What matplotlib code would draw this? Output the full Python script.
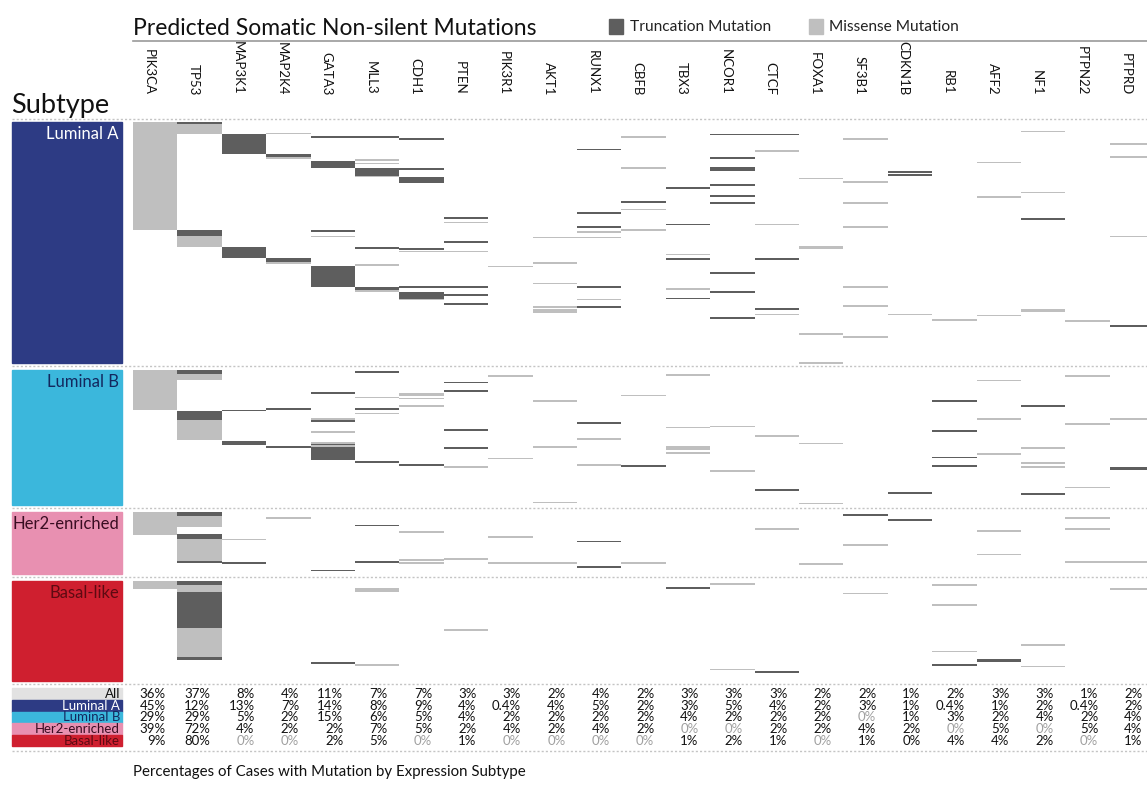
import matplotlib
matplotlib.use('Agg')
import matplotlib.pyplot as plt
from matplotlib.patches import Rectangle

plt.rcParams['font.family'] = ['Lato', 'DejaVu Sans']

genes = ['PIK3CA', 'TP53', 'MAP3K1', 'MAP2K4', 'GATA3', 'MLL3', 'CDH1', 'PTEN',
         'PIK3R1', 'AKT1', 'RUNX1', 'CBFB', 'TBX3', 'NCOR1', 'CTCF', 'FOXA1',
         'SF3B1', 'CDKN1B', 'RB1', 'AFF2', 'NF1', 'PTPN22', 'PTPRD']

subtypes = ['Luminal A', 'Luminal B', 'Her2-enriched', 'Basal-like']
subtype_sizes = [225, 126, 58, 93]
subtype_colors = ['#2d3b84', '#3bb7dc', '#e890b1', '#cf1f2f']
subtype_text_colors = ['white', '#13285e', '#3a0d22', '#5e0a12']

# mutations per gene: (first sample row, number of rows, T=truncation / M=missense)
luma_muts = {
    'PIK3CA': [(0, 101, 'M')],
    'TP53': [(0, 2, 'T'), (2, 9, 'M'), (101, 5, 'T'), (106, 11, 'M')],
    'MAP3K1': [(11, 19, 'T'), (117, 10, 'T')],
    'MAP2K4': [(10, 1, 'M'), (30, 3, 'T'), (33, 1, 'M'), (127, 4, 'T'), (131, 2, 'M')],
    'GATA3': [(13, 1, 'T'), (36, 7, 'T'), (101, 1, 'T'), (106, 1, 'M'), (134, 20, 'T')],
    'MLL3': [(13, 1, 'T'), (35, 1, 'M'), (38, 1, 'M'), (43, 7, 'T'), (50, 1, 'M'),
             (117, 1, 'T'), (133, 1, 'M'), (154, 3, 'T'), (157, 1, 'M')],
    'CDH1': [(15, 1, 'T'), (43, 1, 'T'), (51, 6, 'T'), (118, 1, 'T'), (120, 1, 'M'),
             (153, 1, 'T'), (159, 6, 'T'), (165, 1, 'M')],
    'PTEN': [(89, 1, 'T'), (93, 1, 'M'), (111, 1, 'T'), (120, 1, 'M'), (153, 1, 'T'),
             (161, 1, 'T'), (169, 1, 'T')],
    'PIK3R1': [(134, 1, 'M')],
    'AKT1': [(107, 1, 'M'), (131, 1, 'M'), (150, 1, 'M'), (172, 1, 'M'), (175, 3, 'M')],
    'RUNX1': [(25, 1, 'T'), (84, 1, 'T'), (97, 1, 'T'), (102, 1, 'M'), (107, 1, 'M'),
              (153, 1, 'T'), (165, 1, 'M'), (172, 2, 'T')],
    'CBFB': [(13, 1, 'M'), (42, 1, 'M'), (74, 1, 'T'), (81, 1, 'M'), (100, 1, 'M')],
    'TBX3': [(61, 1, 'T'), (95, 1, 'T'), (123, 1, 'M'), (127, 1, 'T'), (155, 1, 'M'), (164, 1, 'T')],
    'NCOR1': [(11, 1, 'T'), (33, 1, 'T'), (42, 1, 'T'), (44, 1, 'T'), (58, 1, 'T'), (68, 1, 'T'),
              (75, 1, 'T'), (140, 1, 'T'), (158, 1, 'T'), (182, 2, 'T')],
    'CTCF': [(11, 1, 'T'), (26, 1, 'M'), (95, 1, 'M'), (127, 1, 'T'), (174, 1, 'T'), (179, 1, 'M')],
    'FOXA1': [(52, 1, 'M'), (116, 3, 'M'), (197, 1, 'M'), (224, 1, 'M')],
    'SF3B1': [(15, 1, 'M'), (55, 1, 'M'), (75, 1, 'M'), (97, 1, 'M'), (153, 1, 'M'),
              (171, 1, 'M'), (200, 1, 'M')],
    'CDKN1B': [(46, 1, 'T'), (49, 1, 'T'), (179, 1, 'M')],
    'RB1': [(184, 1, 'M')],
    'AFF2': [(37, 1, 'M'), (69, 1, 'M'), (180, 1, 'M')],
    'NF1': [(8, 1, 'M'), (65, 1, 'M'), (90, 1, 'T'), (175, 2, 'M')],
    'PTPN22': [(185, 1, 'M')],
    'PTPRD': [(20, 1, 'M'), (32, 1, 'M'), (106, 1, 'M'), (190, 1, 'T')],
}

lumb_muts = {
    'PIK3CA': [(0, 37, 'M')],
    'TP53': [(0, 4, 'T'), (4, 5, 'M'), (38, 9, 'T'), (47, 18, 'M')],
    'MAP3K1': [(37, 1, 'T'), (66, 4, 'T')],
    'MAP2K4': [(36, 1, 'T'), (71, 1, 'T')],
    'GATA3': [(21, 1, 'T'), (45, 2, 'M'), (47, 1, 'T'), (57, 1, 'M'), (67, 2, 'M'),
              (69, 1, 'T'), (70, 2, 'M'), (72, 12, 'T')],
    'MLL3': [(1, 1, 'T'), (25, 1, 'M'), (36, 1, 'T'), (40, 1, 'M'), (85, 1, 'T')],
    'CDH1': [(22, 2, 'M'), (26, 1, 'M'), (33, 2, 'M'), (88, 1, 'T')],
    'PTEN': [(11, 1, 'T'), (19, 1, 'T'), (55, 1, 'T'), (72, 1, 'T'), (90, 1, 'M')],
    'PIK3R1': [(5, 1, 'M'), (82, 1, 'M')],
    'AKT1': [(28, 1, 'M'), (71, 1, 'M'), (123, 1, 'M')],
    'RUNX1': [(49, 1, 'T'), (64, 1, 'M'), (88, 1, 'M')],
    'CBFB': [(23, 1, 'M'), (89, 1, 'T')],
    'TBX3': [(4, 1, 'M'), (53, 1, 'M'), (71, 1, 'M'), (73, 1, 'M'), (77, 1, 'M')],
    'NCOR1': [(52, 1, 'M'), (93, 2, 'M')],
    'CTCF': [(61, 1, 'M'), (111, 1, 'T')],
    'FOXA1': [(68, 1, 'M'), (124, 1, 'M')],
    'CDKN1B': [(114, 1, 'T')],
    'RB1': [(28, 1, 'T'), (56, 1, 'T'), (81, 1, 'T'), (89, 1, 'T')],
    'AFF2': [(9, 1, 'M'), (45, 1, 'M'), (78, 1, 'M')],
    'NF1': [(33, 1, 'T'), (72, 1, 'M'), (86, 1, 'M'), (90, 1, 'M'), (115, 1, 'T')],
    'PTPN22': [(5, 1, 'M'), (50, 1, 'M'), (109, 1, 'M')],
    'PTPRD': [(45, 1, 'M'), (91, 2, 'T')],
}

her2_muts = {
    'PIK3CA': [(0, 22, 'M')],
    'TP53': [(0, 4, 'T'), (4, 10, 'M'), (21, 4, 'T'), (25, 21, 'M'), (46, 2, 'T')],
    'MAP3K1': [(25, 1, 'M'), (47, 1, 'T')],
    'MAP2K4': [(5, 1, 'M')],
    'GATA3': [(54, 1, 'T')],
    'MLL3': [(12, 1, 'T'), (46, 1, 'T')],
    'CDH1': [(18, 1, 'M'), (44, 1, 'M'), (47, 1, 'M')],
    'PTEN': [(43, 1, 'M')],
    'PIK3R1': [(23, 1, 'M'), (47, 1, 'M')],
    'AKT1': [(47, 1, 'M')],
    'RUNX1': [(27, 1, 'T'), (51, 1, 'T')],
    'CBFB': [(47, 1, 'M')],
    'CTCF': [(15, 1, 'M')],
    'FOXA1': [(48, 1, 'M')],
    'SF3B1': [(2, 1, 'T'), (30, 1, 'M')],
    'CDKN1B': [(7, 1, 'T')],
    'AFF2': [(17, 2, 'M'), (39, 1, 'M')],
    'PTPN22': [(5, 1, 'M'), (15, 1, 'M'), (46, 1, 'M')],
    'PTPRD': [(46, 1, 'M')],
}

basal_muts = {
    'PIK3CA': [(0, 8, 'M')],
    'TP53': [(0, 4, 'T'), (4, 6, 'M'), (10, 34, 'T'), (44, 27, 'M'), (71, 3, 'T')],
    'GATA3': [(76, 1, 'T')],
    'MLL3': [(7, 3, 'M'), (78, 1, 'M')],
    'PTEN': [(45, 1, 'M')],
    'TBX3': [(6, 1, 'T')],
    'NCOR1': [(2, 1, 'M'), (82, 1, 'M')],
    'CTCF': [(84, 1, 'T')],
    'SF3B1': [(11, 1, 'M')],
    'RB1': [(3, 1, 'M'), (22, 1, 'M'), (65, 1, 'M'), (78, 1, 'T')],
    'AFF2': [(73, 3, 'T')],
    'NF1': [(59, 1, 'M'), (79, 1, 'M')],
    'PTPRD': [(7, 1, 'M')],
}

# percentages of cases with mutation
table_rows = ['All', 'Luminal A', 'Luminal B', 'Her2-enriched', 'Basal-like']
pct_all = [36, 37, 8, 4, 11, 7, 7, 3, 3, 2, 4, 2, 3, 3, 3, 2, 2, 1, 2, 3, 3, 1, 2]
pct_luma = [45, 12, 13, 7, 14, 8, 9, 4, 0.4, 4, 5, 2, 3, 5, 4, 2, 3, 1, 0.4, 1, 2, 0.4, 2]
pct_lumb = [29, 29, 5, 2, 15, 6, 5, 4, 2, 2, 2, 2, 4, 2, 2, 2, 0, 1, 3, 2, 4, 2, 4]
pct_her2 = [39, 72, 4, 2, 2, 7, 5, 2, 4, 2, 4, 2, 0, 0, 2, 2, 4, 2, 0, 5, 0, 5, 4]
pct_basal = [9, 80, 0, 0, 2, 5, 0, 1, 0, 0, 0, 0, 1, 2, 1, 0, 1, 0, 4, 4, 2, 0, 1]
zero_black = [('Basal-like', 'CDKN1B')]

# layout (pixels of the 1147x807 picture)
COL_PX = 44.4
ROW_PX = 1.071
X0, Y0 = 133, 122
GAP = 6.5
DARK, LIGHT = '#5e5e5e', '#bfbfbf'
DOT = '#c4c4c4'


def cx(p):
    return (p - X0) / COL_PX


def ry(p):
    return (p - Y0) / ROW_PX


fig = plt.figure(figsize=(11.47, 8.07), dpi=100)
ax = fig.add_axes([0, 0, 1, 1])
ax.set_xlim(cx(0), cx(1147))
ax.set_ylim(ry(807), ry(0))
ax.axis('off')

# header
ax.text(0, ry(35), 'Predicted Somatic Non-silent Mutations', fontsize=16.5,
        va='baseline', ha='left', color='#111111')
ax.plot([0, cx(1147)], [ry(41), ry(41)], color='#9a9a9a', lw=1.2)
ax.add_patch(Rectangle((cx(609), ry(19)), cx(623) - cx(609), ry(34) - ry(19), color=DARK))
ax.text(cx(630), ry(27), 'Truncation Mutation', fontsize=11.2, va='center', color='#222222')
ax.add_patch(Rectangle((cx(809), ry(19)), cx(823) - cx(809), ry(34) - ry(19), color=LIGHT))
ax.text(cx(829), ry(27), 'Missense Mutation', fontsize=11.2, va='center', color='#222222')
ax.text(cx(11), ry(113), 'Subtype', fontsize=19.5, va='baseline', ha='left', color='#111111')

for i, g in enumerate(genes):
    ax.text(i + 0.36, ry(95), g, rotation=-90, ha='center', va='bottom',
            fontsize=9.5, color='#111111')

# mutation matrix
all_muts = [luma_muts, lumb_muts, her2_muts, basal_muts]
offsets = []
off = 0
for n in subtype_sizes:
    offsets.append(off)
    off += n + GAP

for s, muts in enumerate(all_muts):
    base = offsets[s]
    for gene, segs in muts.items():
        col = genes.index(gene)
        for start, n, kind in segs:
            h = max(n, 1.6)
            ax.barh(base + start, 1.0, left=col, height=h, align='edge',
                    color=DARK if kind == 'T' else LIGHT, linewidth=0)

    # subtype block on the left
    ax.add_patch(Rectangle((cx(12), base), cx(122) - cx(12), subtype_sizes[s],
                           color=subtype_colors[s]))
    ax.text(cx(119), base + 3.5, subtypes[s], ha='right', va='top', fontsize=12,
            color=subtype_text_colors[s])

# dotted separators
seps = [-GAP / 2] + [offsets[s] + subtype_sizes[s] + GAP / 2 for s in range(4)]
seps.append(ry(751))
for y in seps:
    ax.plot([cx(12), cx(1147)], [y, y], color=DOT, lw=1, ls=(0, (1.5, 1.5)))

# percentage table
row_edges = [688, 700, 711.6, 723.2, 734.8, 746.4]
row_bg = ['#e2e2e2'] + subtype_colors
row_fg = ['#111111'] + subtype_text_colors
pcts = [pct_all, pct_luma, pct_lumb, pct_her2, pct_basal]
for r, name in enumerate(table_rows):
    top, bot = ry(row_edges[r]), ry(row_edges[r + 1])
    mid = (top + bot) / 2
    ax.add_patch(Rectangle((cx(12), top), cx(122) - cx(12), bot - top, color=row_bg[r]))
    ax.text(cx(120), mid, name, ha='right', va='center', fontsize=9.5, color=row_fg[r])
    for c, v in enumerate(pcts[r]):
        zero = v == 0 and (name, genes[c]) not in zero_black
        ax.text(c + 0.74, mid, f'{v:g}%', ha='right', va='center', fontsize=9.5,
                color='#a0a0a0' if zero else '#111111')

ax.text(0, ry(772), 'Percentages of Cases with Mutation by Expression Subtype',
        fontsize=10.8, va='center', ha='left', color='#111111')

fig.savefig('out.png', dpi=100)
